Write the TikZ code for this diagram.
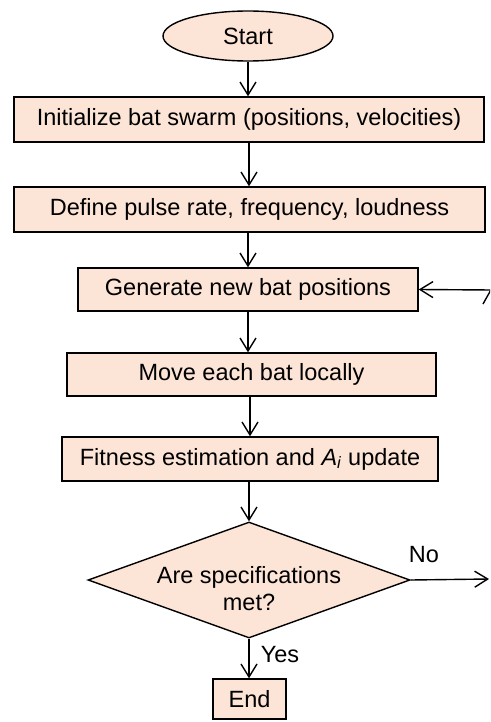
\documentclass[tikz,border=0pt]{standalone}
\usepackage{fontspec}
\setmainfont{Liberation Sans}
\usetikzlibrary{shapes.geometric,arrows.meta}
\definecolor{peach}{RGB}{252,228,214}
\begin{document}
\begin{tikzpicture}[x=1pt,y=-1pt,
  every node/.style={font=\fontsize{23.5}{27}\selectfont, inner sep=0pt},
  procbox/.style={draw, line width=1.4pt, fill=peach, rectangle},
  termshape/.style={draw, line width=1.4pt, fill=peach, ellipse},
  decshape/.style={draw, line width=1.4pt, fill=peach, diamond},
  flow/.style={line width=1.4pt, -{Straight Barb[length=13pt,width=16pt,line width=1.4pt]}},
  plain/.style={line width=1.4pt}]
\useasboundingbox (0,0) rectangle (490,722);
\begin{scope}
\clip (0,0) rectangle (490,722);

% flowchart blocks
\node[termshape, minimum width=170pt, minimum height=50pt] (start) at (248,36) {Start};
\node[procbox, minimum width=470pt, minimum height=45pt] (init) at (249,119.5) {Initialize bat swarm (positions, velocities)};
\node[procbox, minimum width=471pt, minimum height=45pt] (define) at (249.5,209.5) {Define pulse rate, frequency, loudness};
\node[procbox, minimum width=340pt, minimum height=43pt] (gen) at (248,289.5) {Generate new bat positions};
\node[procbox, minimum width=369pt, minimum height=43pt] (move) at (251.5,374.5) {Move each bat locally};
\node[procbox, minimum width=376pt, minimum height=44pt] (fit) at (250,459) {Fitness estimation and \textit{A}\textsubscript{\textit{i}} update};
\node[decshape, minimum width=322pt, minimum height=116pt] (dec) at (249,580) {};
\node[align=center] (dectext) at (249,589) {Are specifications\\met?};
\node[procbox, minimum width=73pt, minimum height=40pt] (stop) at (249.5,699) {End};

% branch labels
\node (nolab) at (424,555) {No};
\node (yeslab) at (280,655) {Yes};

% loose ends of the loop
\coordinate (noend) at (489,579);
\coordinate (fb) at (492,290);
\coordinate (fbcutA) at (483,304);
\coordinate (fbcutB) at (492,288);

% main flow
\draw[flow] (start.south) -- (start.south |- init.north);
\draw[flow] (init.south) -- (init.south |- define.north);
\draw[flow] (define.south -| gen.north) -- (gen.north);
\draw[flow] (gen.south) -- (gen.south |- move.north);
\draw[flow] (move.south -| fit.north) -- (fit.north);
\draw[flow] (fit.south -| dec.north) -- (dec.north);
\draw[flow] (dec.south) -- (dec.south |- stop.north);

% no branch and loop back
\draw[flow] (dec.east) -- (noend);
\draw[flow] (fb) -- (gen.east);
\draw[plain] (fbcutA) -- (fbcutB);
\end{scope}
\end{tikzpicture}
\end{document}
